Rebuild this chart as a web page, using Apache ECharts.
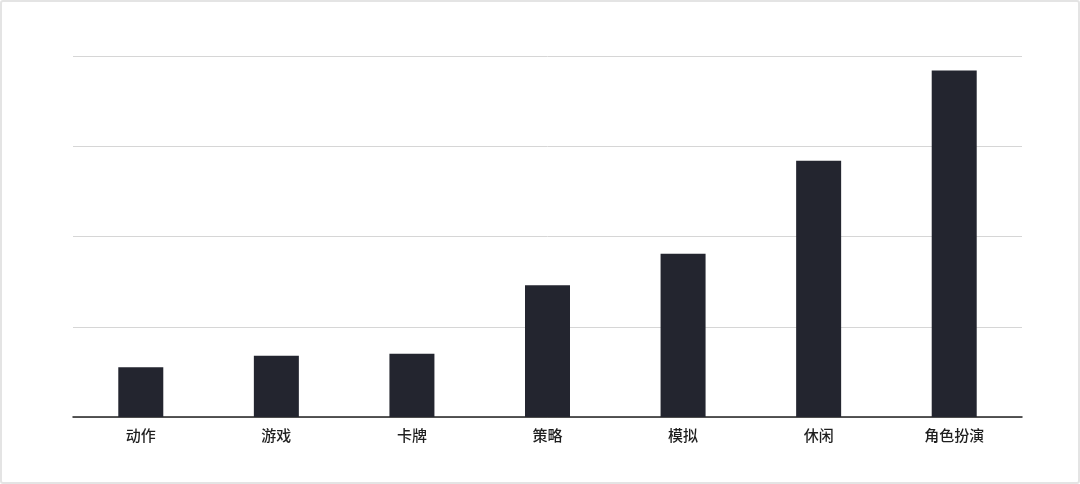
<!DOCTYPE html>
<html>
<head>
<meta charset="utf-8">
<title>游戏类型</title>
<script src="https://cdn.jsdelivr.net/npm/echarts@6/dist/echarts.min.js"></script>
<style>
  html, body { margin: 0; padding: 0; background: #fff; }
  .wrap { position: relative; width: 1080px; height: 484px; }
  #chart { position: absolute; left: 0; top: 0; width: 1080px; height: 484px; }
  .frame {
    position: absolute; left: 0; top: 0; width: 1080px; height: 484px;
    box-sizing: border-box; border: 2px solid #e4e4e4; border-radius: 3px;
    pointer-events: none;
  }
</style>
</head>
<body>
<div class="wrap">
  <div id="chart"></div>
  <div class="frame"></div>
</div>
<script>
var categories = ['动作', '游戏', '卡牌', '策略', '模拟', '休闲', '角色扮演'];
var values = [55, 68, 70, 146, 181, 284, 384];

var chart = echarts.init(document.getElementById('chart'));

var option = {
  backgroundColor: '#fff',
  animation: false,
  grid: {
    left: 73,
    right: 58,
    top: 56,
    bottom: 67,
    containLabel: false
  },
  xAxis: {
    type: 'category',
    data: categories,
    axisLine: { show: true, lineStyle: { color: '#222', width: 1.5 } },
    axisTick: { show: false },
    axisLabel: {
      color: '#1e1e1e',
      fontSize: 15,
      fontWeight: 500,
      margin: 11,
      fontFamily: 'Noto Sans CJK SC'
    }
  },
  yAxis: {
    type: 'value',
    min: 0,
    max: 400,
    interval: 100,
    axisLine: { show: false },
    axisTick: { show: false },
    axisLabel: { show: false },
    splitLine: { lineStyle: { color: '#d6d6d6', width: 1 } }
  },
  series: [{
    type: 'bar',
    data: values,
    barWidth: 45,
    itemStyle: { color: '#23252f' }
  }]
};

chart.setOption(option);
</script>
</body>
</html>
